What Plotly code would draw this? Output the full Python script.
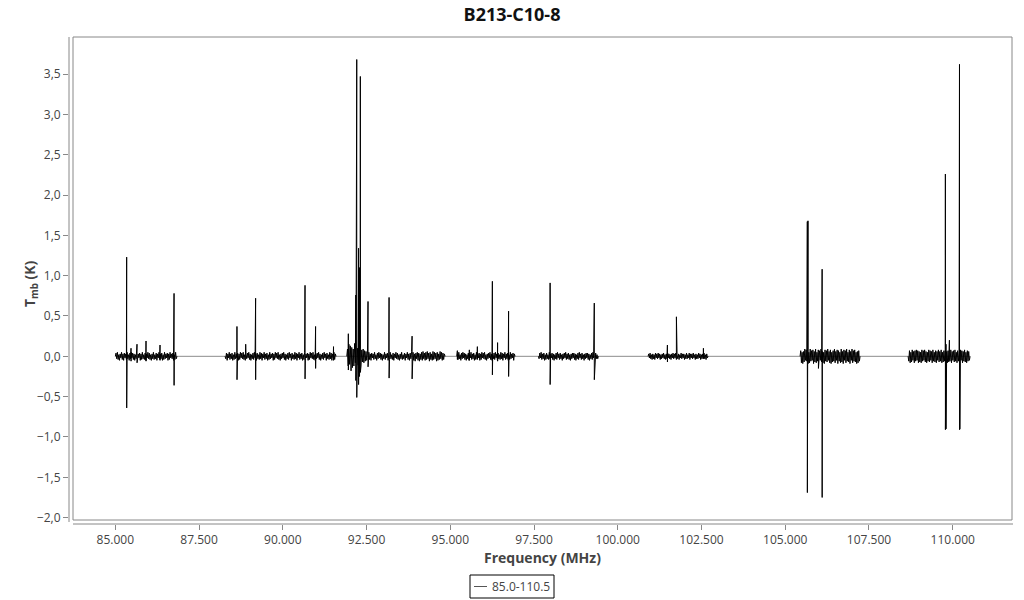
import numpy as np
import plotly.graph_objects as go

# ---------------- data ----------------
# observed frequency windows (MHz): start, end
block_start = [85000, 88276, 91910, 95194, 97631, 100905, 105443, 108668]
block_end = [86841, 91590, 94845, 96934, 99422, 102697, 107235, 110519]

# baseline noise, in units of 0.01 K
noise_b1 = [0, 4, -3, 5, -4, 2, -5, 3, -2, 5, -4, 3, -5, 4, -2, 3, -4, 5, -3, 2, -5, 4, -3, 5, -2, 4, -4, 3,
            -5, 2, -3, 5, -4, 3, -2, 4, -5, 3, -4, 5, -3, 2, -4, 4, -5, 3, -2, 5, -3, 4, -4, 2, -5, 3, -3, 5,
            -4, 2, -3, 4, -5, 3, -2, 5, -4, 3, -3, 4, -5, 2, -4, 5, -3, 3, -2, 4, -5, 3, -4, 5, -2, 3, -3, 4,
            -5, 2, -4, 5, -3, 0]
noise_b2 = [0, -3, 4, -5, 3, -2, 5, -4, 3, -3, 4, -5, 2, -4, 5, -3, 3, -2, 4, -5, 3, -4, 5, -2, 4, -3, 5, -4,
            2, -5, 3, -3, 4, -2, 5, -4, 3, -5, 2, -3, 4, -4, 5, -2, 3, -5, 4, -3, 2, -4, 5, -3, 4, -5, 3, -2,
            5, -4, 3, -3, 4, -5, 2, -4, 5, -3, 3, -2, 4, -5, 3, -4, 5, -2, 4, -3, 5, -4, 2, -5, 3, -3, 4, -2,
            5, -4, 3, -5, 2, -3, 4, -4, 5, -2, 3, -5, 4, -3, 2, -4, 5, -3, 4, -5, 3, -2, 5, -4, 3, -3, 4, -5,
            2, -4, 5, -3, 3, -2, 4, -5, 3, -4, 5, -2, 4, -3, 5, -4, 2, -5, 3, -3, 4, -2, 5, -4, 3, -5, 2, -3,
            4, -4, 5, -2, 3, -5, 4, -3, 2, -4, 5, -3, 4, -5, 3, -2, 5, -4, 3, 0]
noise_b3 = [0, 9, -12, 15, -10, 13, -18, 11, -14, 9, -12, 16, -8, 13, -15, 10, -11, 12, -9, 10, -12, 8, -7,
            9, -8, 7, -6, 6, -5, 4, -3, 5, -4, 3, -5, 4, -2, 3, -4, 5, -3, 2, -5, 4, -3, 5, -2, 4, -4, 3, -5,
            2, -3, 5, -4, 3, -2, 4, -5, 3, -4, 5, -3, 2, -4, 4, -5, 3, -2, 5, -3, 4, -4, 2, -5, 3, -3, 5, -4,
            2, -3, 4, -5, 3, -2, 5, -4, 3, -5, 4, -3, 6, -4, 5, -5, 3, -6, 4, -3, 5, -5, 4, -6, 3, -4, 5, -5,
            6, -3, 4, -5, 5, -4, 6, -3, 4, -6, 5, -4, 3, -5, 6, -4, 5, -3, 4, -6, 5, -5, 3, -4, 6, -3, 5, -5,
            4, -4, 3, 0]
noise_b4 = [0, 3, -4, 5, -3, 2, -5, 4, -3, 5, -2, 4, -4, 3, -5, 2, -3, 4, -5, 3, -2, 5, -4, 3, -3, 4, -5, 2,
            -4, 5, -3, 3, -2, 4, -5, 3, -4, 5, -2, 4, -3, 5, -4, 2, -5, 3, -3, 4, -2, 5, -4, 3, -5, 2, -3, 4,
            -4, 5, -2, 3, -5, 4, -3, 2, -4, 5, -3, 4, -5, 3, -2, 5, -4, 3, -3, 4, -5, 2, -4, 5, -3, 3, -2, 4,
            -5, 3, 0]
noise_b5 = [0, -3, 4, -2, 5, -4, 3, -3, 4, -5, 2, -4, 4, -3, 2, -4, 5, -3, 3, -2, 4, -4, 3, -5, 2, -3, 4,
            -4, 5, -2, 3, -4, 4, -3, 2, -5, 3, -3, 4, -2, 5, -4, 3, -3, 4, -4, 2, -5, 3, -3, 4, -2, 4, -4, 3,
            -5, 2, -3, 4, -4, 5, -2, 3, -4, 4, -3, 2, -5, 3, -3, 4, -2, 4, -4, 3, -5, 2, -3, 4, -4, 5, -2, 3,
            -4, 4, -3, 2, -3, 0]
noise_b6 = [0, 3, -2, 4, -3, 2, -4, 3, -3, 2, -4, 4, -2, 3, -3, 4, -2, 3, -4, 2, -3, 3, -2, 4, -3, 2, -4,
            3, -3, 4, -2, 3, -3, 2, -4, 3, -2, 4, -3, 3, -2, 4, -4, 2, -3, 3, -4, 2, -2, 4, -3, 3, -2, 3,
            -4, 2, -3, 4, -3, 2, -2, 4, -4, 3, -2, 3, -3, 4, -2, 2, -4, 3, -3, 2, -3, 4, -2, 3, -4, 2, -3,
            3, -2, 4, -3, 2, -4, 3, -2, 0]
noise_b7 = [0, 7, -8, 5, -9, 6, -7, 9, -5, 8, -6, 7, -9, 5, -8, 9, -6, 7, -5, 8, -9, 6, -7, 9, -8, 5, -6,
            8, -9, 7, -5, 9, -7, 6, -8, 5, -9, 8, -6, 7, -7, 9, -5, 6, -8, 8, -9, 5, -7, 7, -6, 9, -8, 6,
            -5, 8, -9, 7, -6, 5, -8, 9, -7, 6, -9, 8, -5, 7, -8, 9, -6, 5, -7, 8, -9, 6, -5, 9, -8, 7, -6,
            8, -7, 5, -9, 6, -8, 7, -6, 0]
noise_b8 = [0, -6, 7, -8, 5, -7, 8, -5, 6, -8, 7, -6, 8, -5, 7, -8, 6, -7, 5, -8, 8, -6, 7, -5, 8, -7, 6,
            -8, 5, -6, 8, -7, 7, -5, 6, -8, 8, -6, 5, -7, 7, -8, 6, -5, 8, -7, 6, -6, 8, -8, 5, -7, 7, -6, 8,
            -5, 6, -8, 7, -7, 5, -6, 8, -8, 6, -5, 7, -7, 8, -6, 5, -8, 7, -6, 6, -7, 8, -5, 7, -8, 6, -6, 8,
            -7, 5, -8, 7, -6, 6, -5, 0]
block_noise = [noise_b1, noise_b2, noise_b3, noise_b4, noise_b5, noise_b6, noise_b7, noise_b8]

# spectral lines / spikes: frequency (MHz), peak (K), trough (K)
line_freq = [85339, 85469, 85648, 85917, 86335, 86754,
             88632, 88893, 89189, 90664, 90979, 91515,
             91957, 92180, 92208, 92262, 92290, 92315, 92545, 93173, 93860,
             95212, 95570, 95809, 96257, 96413, 96741,
             97981, 99300,
             101483, 101752, 102558,
             105660, 105680, 105991, 106102,
             109782, 109800, 109902, 110203, 110220]
line_peak = [1.23, 0.10, 0.15, 0.19, 0.14, 0.78,
             0.37, 0.15, 0.72, 0.88, 0.37, 0.12,
             0.28, 0.76, 3.68, 1.34, 1.10, 3.47, 0.68, 0.73, 0.25,
             0.07, 0.08, 0.12, 0.93, 0.17, 0.56,
             0.91, 0.66,
             0.14, 0.49, 0.10,
             1.67, 1.68, 0.05, 1.08,
             2.26, 0.15, 0.20, 3.62, 0.50]
line_trough = [-0.64, -0.06, -0.08, -0.06, -0.05, -0.36,
               -0.29, -0.05, -0.29, -0.28, -0.15, -0.05,
               -0.17, -0.30, -0.51, -0.35, -0.25, -0.20, -0.13, -0.27, -0.28,
               -0.04, -0.05, -0.04, -0.23, -0.06, -0.25,
               -0.35, -0.29,
               -0.07, -0.03, -0.03,
               -1.69, -1.66, -0.15, -1.75,
               -0.91, -0.90, -0.05, -0.91, -0.90]

x_ticks = [85000, 87500, 90000, 92500, 95000, 97500, 100000, 102500, 105000, 107500, 110000]
series_name = "85.0-110.5"

# ---------------- build the spectrum (one segment per window) ----------------
freq, tmb = [], []
for s, e, nz in zip(block_start, block_end, block_noise):
    pts = list(zip(np.linspace(s, e, len(nz)).tolist(), [v / 100.0 for v in nz]))
    for f, p, t in zip(line_freq, line_peak, line_trough):
        if s <= f <= e:
            pts.append((f - 0.5, p))
            pts.append((f + 0.5, t))
    pts.sort(key=lambda q: q[0])
    freq += [q[0] for q in pts] + [None]
    tmb += [q[1] for q in pts] + [None]

# ---------------- layout geometry ----------------
W, H = 1024, 600
ML, MR, MT, MB = 69, 11, 37, 76
PW, PH = W - ML - MR, H - MT - MB


def px(x):
    return (x - ML) / PW


def py(y):
    return (H - MB - y) / PH


fig = go.Figure()
# zero baseline across the full band
fig.add_trace(go.Scatter(x=[block_start[0], block_end[-1]], y=[0, 0], mode="lines",
                         line=dict(color="#8c8c8c", width=1), showlegend=False, hoverinfo="skip"))
fig.add_trace(go.Scatter(x=freq, y=tmb, mode="lines", name=series_name, connectgaps=False,
                         line=dict(color="#000000", width=1), showlegend=False,
                         hoverinfo="x+y"))

grey = "#888888"
shapes = [
    # frame
    dict(type="rect", xref="paper", yref="paper", x0=px(73), x1=px(1012), y0=py(520), y1=py(37),
         line=dict(color=grey, width=1), fillcolor="rgba(0,0,0,0)"),
    # y axis line
    dict(type="line", xref="paper", yref="paper", x0=px(69), x1=px(69), y0=py(522), y1=py(37),
         line=dict(color=grey, width=1)),
    # x axis line
    dict(type="line", xref="paper", yref="paper", x0=px(73), x1=px(1013), y0=py(524), y1=py(524),
         line=dict(color=grey, width=1)),
    # legend box
    dict(type="rect", xref="paper", yref="paper", x0=px(470), x1=px(554), y0=py(598), y1=py(575),
         line=dict(color="#000000", width=1), fillcolor="white"),
    dict(type="line", xref="paper", yref="paper", x0=px(474), x1=px(487), y0=py(586.5), y1=py(586.5),
         line=dict(color="#555555", width=1)),
]

annotations = [
    dict(text=series_name, xref="paper", yref="paper", x=px(490), y=py(586.5),
         xanchor="left", yanchor="middle", showarrow=False,
         font=dict(size=12, color="#444444")),
    dict(text="Frequency (MHz)", xref="paper", yref="paper", x=px(542), y=py(557),
         xanchor="center", yanchor="middle", showarrow=False,
         font=dict(size=14, color="#444444", weight="bold")),
    dict(text="T<sub>mb</sub> (K)", xref="paper", yref="paper", x=px(30), y=py(284),
         xanchor="center", yanchor="middle", showarrow=False, textangle=-90,
         font=dict(size=14, color="#444444", weight="bold")),
]

fig.update_layout(
    width=W, height=H,
    margin=dict(l=ML, r=MR, t=MT, b=MB, autoexpand=False),
    paper_bgcolor="white", plot_bgcolor="white",
    separators=",.",
    font=dict(family="Open Sans, Noto Sans, sans-serif", size=12, color="#444444"),
    title=dict(text="B213-C10-8", x=0.5, xanchor="center", y=1 - 15 / H, yanchor="middle",
               yref="container", automargin=False,
               font=dict(size=18, color="#111111", weight="bold")),
    shapes=shapes,
    annotations=annotations,
    showlegend=False,
)
fig.update_xaxes(range=[83617, 111800], showgrid=False, zeroline=False, showline=False,
                 automargin=False,
                 tickvals=x_ticks, tickformat=",d", ticks="outside", ticklen=5,
                 tickcolor=grey, tickfont=dict(size=12, color="#444444"))
fig.update_yaxes(range=[-2.079, 3.959], showgrid=False, zeroline=False, showline=False,
                 automargin=False,
                 dtick=0.5, tick0=0, tickformat=".1f", ticks="outside", ticklen=5,
                 tickcolor=grey, tickfont=dict(size=12, color="#444444"))

# the page is photographed at its top-left corner: drop the default body margin
fig.write_html("out.html", config={"displayModeBar": False},
               post_script="document.body.style.margin='0';document.body.style.overflow='hidden';")
